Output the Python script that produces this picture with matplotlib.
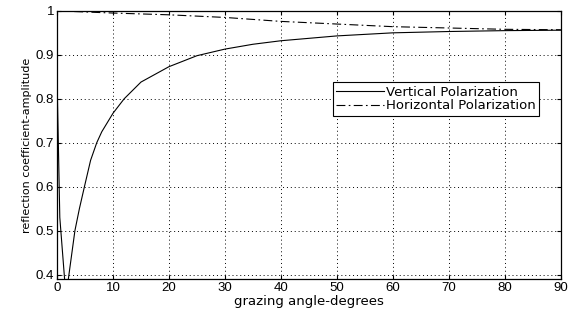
import matplotlib
matplotlib.use('Agg')
from matplotlib import pyplot as plt

# values
angle_v = [0.05, 0.5, 1.6, 3.2, 4, 4.9, 6, 7.1, 8, 10, 12, 15, 20, 25, 30, 35,
           40, 50, 60, 70, 80, 90]
vertical = [0.82, 0.53, 0.35, 0.50, 0.55, 0.60, 0.66, 0.70, 0.725, 0.767,
            0.80, 0.838, 0.873, 0.898, 0.913, 0.924, 0.932, 0.943, 0.950,
            0.953, 0.955, 0.956]

angle_h = [0, 10, 20, 30, 40, 50, 60, 70, 80, 90]
horizontal = [1.0, 0.995, 0.991, 0.985, 0.976, 0.970, 0.964, 0.961, 0.958,
              0.957]

x_ticks = list(range(0, 91, 10))
y_ticks = [0.4, 0.5, 0.6, 0.7, 0.8, 0.9, 1]
y_labels = ['0.4', '0.5', '0.6', '0.7', '0.8', '0.9', '1']

plt.rcParams['font.family'] = ['Liberation Sans', 'DejaVu Sans']

fig = plt.figure(figsize=(5.7, 3.1), dpi=100)
ax = fig.add_axes([0.1, 0.1, 0.884, 0.865])

ax.plot(angle_v, vertical, color='black', linewidth=0.8,
        label='Vertical Polarization')
ax.plot(angle_h, horizontal, color='black', linewidth=0.8, linestyle='-.',
        dashes=(8, 3, 1.5, 3), label='Horizontal Polarization')

ax.set_xlim(0, 90)
ax.set_ylim(0.39, 1.0)
ax.set_xticks(x_ticks)
ax.set_yticks(y_ticks)
ax.set_yticklabels(y_labels)
ax.tick_params(direction='in', top=True, right=True, labelsize=9.5,
               length=3, width=0.8, pad=2)
ax.grid(True, color='black', linestyle=(0, (1, 3)), linewidth=0.7)
for spine in ax.spines.values():
    spine.set_linewidth(0.9)

ax.set_xlabel('grazing angle-degrees', fontsize=9.5, labelpad=1,
              family='DejaVu Sans')
ax.set_ylabel('reflection coefficient-amplitude', fontsize=8, labelpad=3,
              family='DejaVu Sans')

leg = ax.legend(loc='upper right', bbox_to_anchor=(0.957, 0.733),
                borderaxespad=0, fancybox=False,
                prop={'family': 'DejaVu Sans', 'size': 9.5},
                handlelength=3.6, handletextpad=0.2, borderpad=0.25,
                labelspacing=0.05, framealpha=1)
leg.get_frame().set_edgecolor('black')
leg.get_frame().set_linewidth(0.8)

fig.savefig('out.png', dpi=100)
